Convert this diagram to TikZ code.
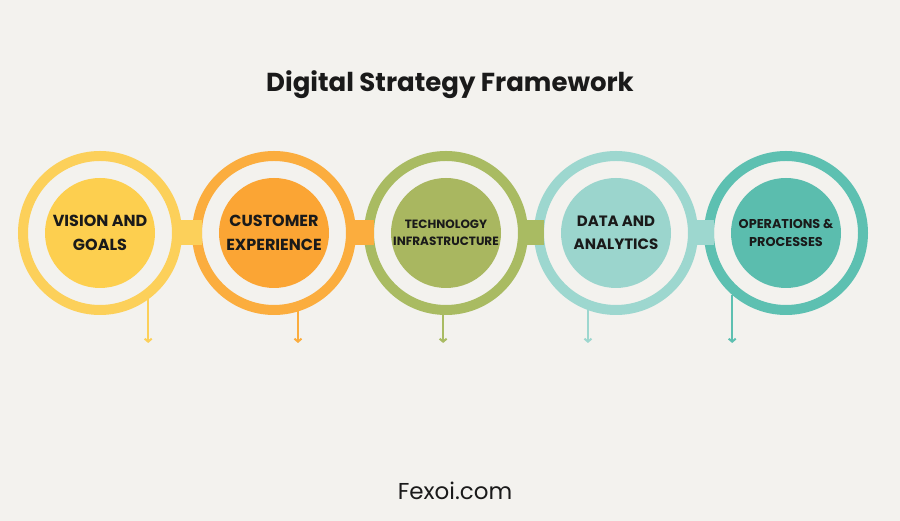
\documentclass[tikz,border=0pt]{standalone}
\usepackage{fontspec}
\setmainfont{Poppins}
\usetikzlibrary{arrows.meta}
\usetikzlibrary{positioning}
\definecolor{paper}{HTML}{F3F2EE}
\definecolor{ink}{HTML}{1A1A1A}
\definecolor{sun}{HTML}{FCD05A}
\definecolor{sunfill}{HTML}{FDCF4F}
\definecolor{amber}{HTML}{FBAD3E}
\definecolor{amberfill}{HTML}{FBA534}
\definecolor{olive}{HTML}{A9BB62}
\definecolor{olivefill}{HTML}{A9B760}
\definecolor{mint}{HTML}{9DD7CF}
\definecolor{mintfill}{HTML}{9BD5CD}
\definecolor{sea}{HTML}{5DC0B1}
\definecolor{seafill}{HTML}{5BBDAE}
\tikzset{ring/.style = {circle, draw, line width=10pt, minimum size=154pt, inner sep=0pt},
         core/.style = {circle, minimum size=110pt, inner sep=0pt, align=center, text=ink},
         big/.style = {font=\bfseries\fontsize{16}{24}\selectfont},
         small/.style = {font=\bfseries\fontsize{12}{17}\selectfont},
         link/.style = {line width=25pt},
         drop/.style = {line width=2pt, -{Straight Barb[length=3pt,width=7pt]}}}

\begin{document}
\begin{tikzpicture}[x=1pt, y=1pt]
      \path [fill=paper] (0, 0) rectangle (900, 521);

      \node [font=\bfseries\fontsize{26}{30}\selectfont, anchor=base, text=ink] (title) at (450, 429) {Digital Strategy Framework};

      \node [ring, sun] (r1) at (100, 288) {};
      \node [ring, amber] (r2) at (274, 288) {};
      \node [ring, olive] (r3) at (446, 288) {};
      \node [ring, mint] (r4) at (616, 288) {};
      \node [ring, sea] (r5) at (786, 288) {};

      % blocks joining the rings
      \draw [link, sun] (r1.center) ++(77, 0) coordinate (j1) -- ([xshift=10pt] r2.west);
      \draw [link, amber] (r2.center) ++(77, 0) coordinate (j2) -- ([xshift=10pt] r3.west);
      \draw [link, olive] (r3.center) ++(77, 0) coordinate (j3) -- ([xshift=10pt] r4.west);
      \draw [link, mint] (r4.center) ++(77, 0) coordinate (j4) -- ([xshift=10pt] r5.west);

      \node [core, big, fill=sunfill] (c1) at (r1) {VISION AND\\GOALS};
      \node [core, big, fill=amberfill] (c2) at (r2) {CUSTOMER\\EXPERIENCE};
      \node [core, small, fill=olivefill] (c3) at (r3) {TECHNOLOGY\\INFRASTRUCTURE};
      \node [core, big, font=\bfseries\fontsize{15}{23}\selectfont, fill=mintfill] (c4) at (r4) {DATA AND\\ANALYTICS};
      \node [core, small, font=\bfseries\fontsize{12.8}{18}\selectfont, fill=seafill] (c5) at (r5) {OPERATIONS \&\\PROCESSES};

      \coordinate (tip) at (0, 178);
      \draw [drop, sun] (r1.-54) -- (r1.-54 |- tip);
      \draw [drop, amber] (r2.-73) -- (r2.-73 |- tip);
      \draw [drop, olive] (r3.-92) -- (r3.-92 |- tip);
      \draw [drop, mint] (r4.-110) -- (r4.-110 |- tip);
      \draw [drop, sea] (r5.-131) -- (r5.-131 |- tip);

      \node [font=\fontsize{23}{27}\selectfont, anchor=base, text=ink] (site) at (455, 21) {Fexoi.com};
    \end{tikzpicture}
\end{document}
